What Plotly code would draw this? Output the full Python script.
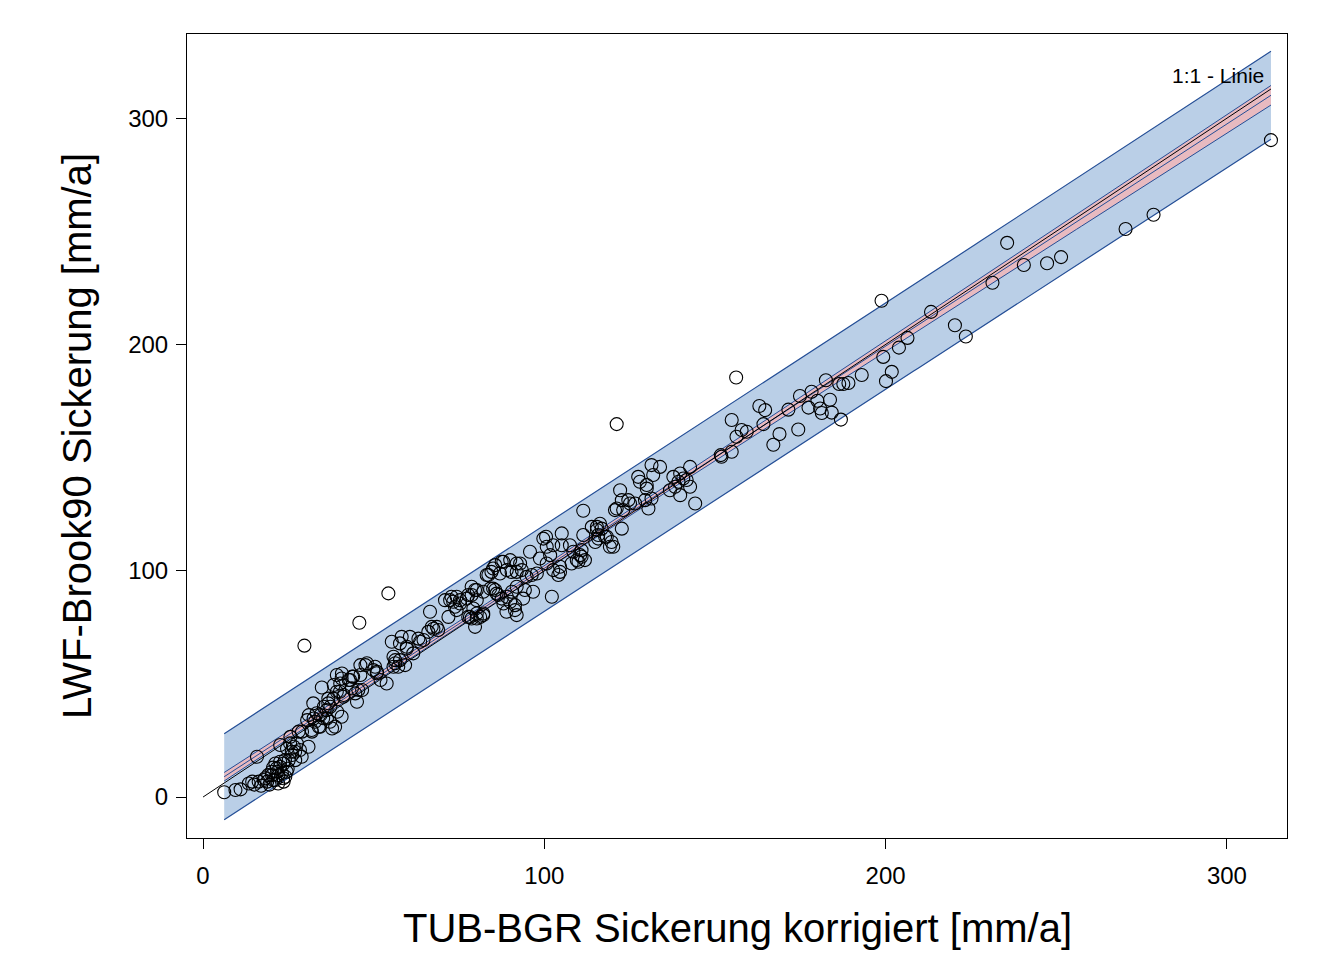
import numpy as np
import plotly.graph_objects as go

# --- data (TUB-BGR x, LWF-Brook90 y, mm/a) ---
tub_bgr = [
    6.2, 9.5, 11.0, 13.4, 14.4, 15.8, 16.3, 17.8, 18.8, 18.2, 19.1, 20.2, 20.1, 20.6, 21.2, 21.2,
    21.7, 21.6, 22.1, 22.6, 22.6, 23.1, 23.5, 23.6, 23.6, 22.6, 24.0, 24.5, 24.1, 24.6, 25.1, 25.5,
    25.6, 26.0, 26.1, 26.6, 27.0, 27.0, 27.5, 28.4, 28.9, 28.0, 29.0, 30.9, 30.5, 31.0, 31.8, 31.9,
    32.3, 32.4, 32.8, 33.3, 33.9, 34.4, 34.3, 34.8, 35.2, 35.4, 36.2, 36.3, 36.7, 36.7, 37.2, 37.3,
    37.8, 38.2, 38.3, 38.7, 39.2, 39.2, 39.3, 40.1, 40.2, 40.6, 40.6, 40.7, 41.1, 41.2, 42.7, 43.1,
    43.6, 43.7, 44.0, 44.6, 45.1, 45.5, 46.1, 46.1, 46.6, 47.6, 48.0, 29.7, 45.8, 54.3,
    15.0, 17.0, 19.5, 22.0, 24.8, 20.5,
    50.4, 50.9, 49.9, 51.0, 52.0, 53.8, 55.8, 56.3, 55.8, 57.2, 56.3, 57.7, 59.2, 55.3, 57.7, 59.7,
    59.7, 60.6, 58.2, 61.6, 63.1, 63.6, 64.6, 66.0, 66.5, 67.5, 68.5, 68.9, 67.0, 70.9, 71.9, 72.4,
    72.8, 73.3, 73.8, 74.3, 74.3, 75.3, 75.3, 77.3, 77.7, 77.7, 78.7, 78.2, 78.7, 78.7, 79.2, 79.7,
    79.7, 80.2, 80.2, 80.2, 80.2, 81.2, 82.1, 82.1, 82.1,
    83.1, 83.6, 84.1, 84.5, 85.0, 85.0, 85.6, 85.6, 86.0, 86.5, 87.0, 87.5, 87.5, 88.0, 88.0, 88.9,
    89.0, 89.0, 90.0, 90.0, 90.4, 90.5, 91.4, 91.4, 91.9, 91.9, 91.9, 91.9, 92.9, 93.4, 93.8, 94.3,
    94.8, 95.8, 96.3, 96.7, 97.8, 98.7, 99.7, 100.5, 100.7, 100.7, 101.7, 102.2, 102.6, 102.6, 104.1,
    104.6, 104.6, 105.1, 105.1, 107.5, 108.0, 108.5, 109.5, 110.0, 110.5, 110.9, 110.9, 111.4, 111.4,
    111.9, 113.9, 114.9, 115.4, 115.4, 115.8, 115.8, 116.3, 116.8, 117.8, 118.3, 119.2, 119.7, 120.2,
    120.7, 121.2, 121.2,
    122.2, 122.7, 122.7, 123.1, 124.6, 125.1, 126.6, 127.5, 128.0, 129.5, 130.0, 130.0, 130.5, 131.4,
    131.4, 131.9, 133.9, 136.8, 137.8, 138.3, 139.3, 139.8, 139.8, 140.7, 141.7, 142.7, 142.7, 144.2,
    151.7, 151.9, 154.9, 154.9, 156.3, 156.2, 157.8, 159.3,
    163.0, 164.2, 164.7, 167.1, 168.9, 171.5, 174.4, 174.9, 177.4, 178.3, 180.0, 180.8, 181.3, 182.5,
    183.7, 184.2, 186.4, 186.9, 187.6, 189.1, 193.0, 198.8, 199.3, 200.1, 201.8, 203.9, 206.4, 213.3,
    220.3, 223.5, 231.3, 235.6, 240.5, 247.3, 251.4, 270.3, 278.5, 312.9,
]
lwf_brook90 = [
    2.1, 3.1, 3.4, 6.0, 6.8, 17.8, 6.8, 7.5, 6.8, 8.3, 9.7, 9.7, 11.2, 7.5, 14.8, 7.5,
    11.2, 12.7, 9.7, 13.4, 15.6, 10.5, 8.3, 14.8, 6.8, 23.0, 16.3, 11.2, 9.0, 21.4, 16.3, 23.7,
    26.6, 20.0, 18.6, 22.2, 16.3, 20.0, 23.7, 20.8, 17.8, 28.9, 28.9, 22.2, 34.0, 36.2, 29.6, 28.9,
    41.4, 34.7, 33.3, 37.0, 31.1, 36.2, 31.1, 48.4, 34.8, 39.9, 38.4, 34.7, 41.4, 43.5, 33.3, 39.9,
    30.3, 43.5, 49.5, 31.1, 53.9, 46.5, 37.7, 46.5, 50.2, 35.5, 52.4, 54.6, 44.3, 45.1, 51.7, 51.7,
    48.0, 53.2, 53.2, 45.8, 42.1, 47.3, 58.3, 53.9, 47.3, 58.3, 59.1, 66.9, 77.0, 90.0,
    5.5, 5.0, 5.5, 6.0, 12.5, 13.0,
    57.6, 54.7, 56.1, 55.3, 51.7, 50.2, 62.0, 60.5, 57.6, 57.6, 59.1, 60.5, 58.3, 68.6, 67.9, 65.6,
    66.4, 70.8, 70.8, 63.5, 70.0, 68.6, 69.4, 73.0, 81.9, 74.4, 75.2, 73.8, 75.2, 87.0, 79.6, 87.0,
    88.5, 86.3, 84.1, 82.6, 88.5, 85.5, 87.0, 87.7, 79.6, 89.3, 78.9, 79.6, 89.3, 92.9, 83.3, 91.5,
    75.2, 87.0, 78.9, 81.1, 91.5, 79.6, 81.1, 90.7, 80.4,
    98.1, 98.1, 92.1, 99.5, 101.0, 92.1, 102.5, 91.5, 89.9, 89.3, 98.8, 104.0, 87.7, 85.5, 104.0, 81.9,
    100.3, 88.5, 104.7, 86.3, 99.5, 90.7, 82.6, 84.8, 80.4, 99.5, 92.9, 103.2, 103.2, 100.3, 87.7, 91.5,
    97.3, 108.4, 98.1, 90.7, 98.8, 105.4, 114.2, 115.0, 103.2, 110.6, 106.9, 88.5, 100.3, 111.3, 98.1,
    101.8, 99.5, 116.5, 111.3, 111.3, 103.2, 108.4, 104.7, 104.0, 106.9, 106.2, 109.1, 126.5, 115.8,
    104.7, 119.4, 112.7, 118.0, 119.4, 115.8, 114.2, 120.8, 118.6, 115.0, 115.0, 110.6, 112.7, 110.6,
    126.8, 127.5, 164.8,
    135.6, 131.2, 118.6, 126.8, 131.2, 129.7, 129.7, 141.5, 139.3, 131.2, 136.3, 137.9, 127.5, 146.7,
    131.9, 142.3, 145.9, 135.6, 141.5, 137.1, 139.3, 143.0, 133.4, 140.8, 140.1, 145.9, 137.1, 129.7,
    151.1, 150.4, 152.6, 166.6, 159.2, 185.4, 162.2, 161.4,
    172.8, 164.8, 171.0, 155.7, 160.4, 171.2, 162.4, 177.2, 172.1, 179.1, 175.1, 171.7, 169.7, 184.2,
    175.6, 169.9, 182.5, 166.8, 182.5, 183.0, 186.5, 219.3, 194.5, 183.8, 187.9, 198.6, 202.9, 214.4,
    208.5, 203.5, 227.3, 244.9, 235.1, 235.9, 238.6, 251.0, 257.3, 290.3,
]
x_ticks = [0, 100, 200, 300]
y_ticks = [0, 100, 200, 300]
x_title = "TUB-BGR Sickerung korrigiert [mm/a]"
y_title = "LWF-Brook90 Sickerung [mm/a]"
line_label = "1:1 - Linie"

# --- linear regression with confidence and prediction bands ---
x = np.array(tub_bgr, dtype=float)
y = np.array(lwf_brook90, dtype=float)
n = len(x)
xm = x.mean()
sxx = ((x - xm) ** 2).sum()
b1 = ((x - xm) * (y - y.mean())).sum() / sxx
b0 = y.mean() - b1 * xm
s = np.sqrt(((y - (b0 + b1 * x)) ** 2).sum() / (n - 2))
t = 1.969
xg = np.linspace(x.min(), x.max(), 200)
yg = b0 + b1 * xg
ci = t * s * np.sqrt(1.0 / n + (xg - xm) ** 2 / sxx)
pi = t * s * np.sqrt(1.0 + 1.0 / n + (xg - xm) ** 2 / sxx)

band_fill = "rgb(186,207,231)"
band_edge = "rgb(36,78,150)"
ci_fill = "rgb(232,186,192)"
FONT = "Liberation Sans, Arial"

fig = go.Figure()
# prediction band
fig.add_trace(go.Scatter(x=np.concatenate([xg, xg[::-1]]), y=np.concatenate([yg + pi, (yg - pi)[::-1]]),
                         fill="toself", fillcolor=band_fill, line=dict(width=0), mode="lines",
                         hoverinfo="skip", showlegend=False))
for yy in (yg + pi, yg - pi):
    fig.add_trace(go.Scatter(x=xg, y=yy, mode="lines", line=dict(color=band_edge, width=1.2),
                             hoverinfo="skip", showlegend=False))
# confidence band
fig.add_trace(go.Scatter(x=np.concatenate([xg, xg[::-1]]), y=np.concatenate([yg + ci, (yg - ci)[::-1]]),
                         fill="toself", fillcolor=ci_fill, line=dict(width=0), mode="lines",
                         hoverinfo="skip", showlegend=False))
for yy in (yg + ci, yg - ci, yg):
    fig.add_trace(go.Scatter(x=xg, y=yy, mode="lines", line=dict(color=band_edge, width=1),
                             hoverinfo="skip", showlegend=False))
# 1:1 line
fig.add_trace(go.Scatter(x=[0, x.max()], y=[0, x.max()], mode="lines",
                         line=dict(color="black", width=1), showlegend=False))
# points
fig.add_trace(go.Scatter(x=x, y=y, mode="markers",
                         marker=dict(symbol="circle-open", size=13, color="black", line=dict(width=1.1)),
                         showlegend=False))

fig.add_annotation(x=x.max() - 1.5, y=319, text=line_label, showarrow=False, xanchor="right",
                   yanchor="middle", font=dict(size=21, color="black", family=FONT))
fig.add_annotation(xref="paper", yref="paper", x=0.5, y=-0.112, text=x_title, showarrow=False,
                   xanchor="center", yanchor="middle",
                   font=dict(size=40, color="black", family=FONT))
fig.add_annotation(xref="paper", yref="paper", x=-0.1, y=0.5, text=y_title, showarrow=False,
                   textangle=-90, xanchor="center", yanchor="middle",
                   font=dict(size=40, color="black", family=FONT))

axis_common = dict(showline=True, linecolor="black", linewidth=1, mirror=True, ticks="outside",
                   ticklen=10, tickcolor="black", tickwidth=1, showgrid=False, zeroline=False,
                   tickfont=dict(size=24, color="black", family=FONT))
fig.update_xaxes(range=[-4.7, 317.6], tickvals=x_ticks, ticklabelstandoff=6, **axis_common)
fig.update_yaxes(range=[-18.1, 337.2], tickvals=y_ticks, ticklabelstandoff=3, **axis_common)
fig.update_layout(width=1336, height=970, margin=dict(l=187, r=49, t=34, b=132),
                  plot_bgcolor="white", paper_bgcolor="white")
fig.write_html("out.html")
